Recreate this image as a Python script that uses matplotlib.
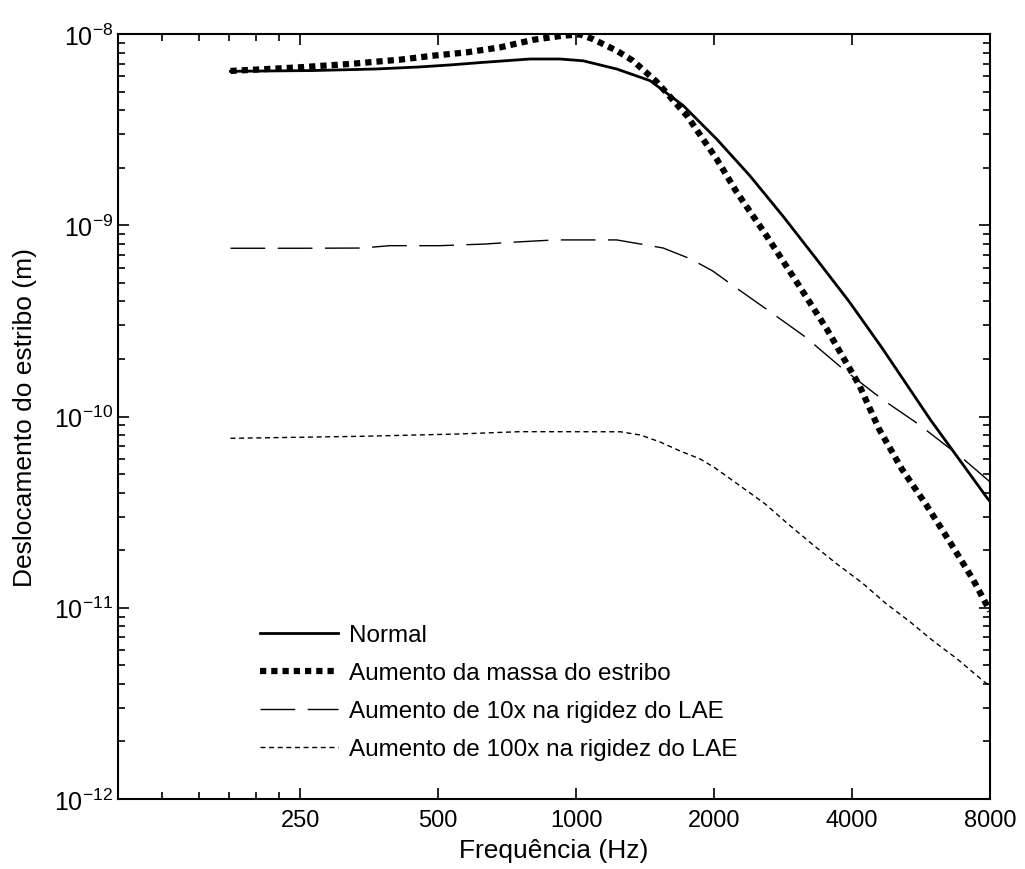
import matplotlib
matplotlib.use('Agg')
import matplotlib.pyplot as plt
from matplotlib.ticker import FixedLocator, NullFormatter, LogLocator

plt.rcParams['font.family'] = ['Liberation Sans', 'DejaVu Sans']
plt.rcParams['mathtext.fontset'] = 'custom'
plt.rcParams['mathtext.rm'] = 'Liberation Sans'
plt.rcParams['mathtext.default'] = 'regular'

# valores
freq_normal = [176, 266, 364, 452, 531, 623, 792, 922, 1036, 1226, 1450, 1713, 2026,
               2391, 2823, 3342, 3948, 4664, 5914, 7912, 8000]
desl_normal = [6.38e-9, 6.44e-9, 6.56e-9, 6.72e-9, 6.89e-9, 7.10e-9, 7.40e-9, 7.40e-9,
               7.24e-9, 6.56e-9, 5.70e-9, 4.22e-9, 2.82e-9, 1.82e-9, 1.12e-9, 6.67e-10,
               3.97e-10, 2.26e-10, 9.7e-11, 3.71e-11, 3.6e-11]

freq_massa = [176, 250, 320, 412, 487, 577, 682, 806, 936, 1020, 1087, 1226, 1330, 1500,
              1744, 2026, 2240, 2603, 3028, 3522, 4152, 4580, 5138, 5822, 6538, 7340, 8000]
desl_massa = [6.41e-9, 6.70e-9, 6.97e-9, 7.34e-9, 7.70e-9, 8.02e-9, 8.51e-9, 9.33e-9,
              9.80e-9, 9.95e-9, 9.41e-9, 8.18e-9, 7.25e-9, 5.61e-9, 3.74e-9, 2.22e-9,
              1.49e-9, 8.81e-10, 5.05e-10, 2.87e-10, 1.45e-10, 8.61e-11, 5.31e-11,
              3.42e-11, 2.21e-11, 1.41e-11, 9.6e-12]

freq_10x = [176, 250, 341, 392, 505, 635, 718, 898, 1128, 1226, 1380, 1549, 1776, 1985,
            2222, 2690, 3160, 3824, 4676, 5577, 6996, 8000]
desl_10x = [7.58e-10, 7.58e-10, 7.60e-10, 7.82e-10, 7.82e-10, 7.98e-10, 8.14e-10, 8.38e-10,
            8.38e-10, 8.38e-10, 7.98e-10, 7.60e-10, 6.67e-10, 5.77e-10, 4.75e-10, 3.44e-10,
            2.61e-10, 1.77e-10, 1.22e-10, 9.14e-11, 6.0e-11, 4.55e-11]

freq_100x = [176, 341, 552, 753, 1249, 1381, 1524, 1686, 1864, 2010, 2279, 2585, 2900,
             3290, 3711, 4208, 4725, 5356, 6013, 6784, 7734, 8000]
desl_100x = [7.69e-11, 7.88e-11, 8.1e-11, 8.33e-11, 8.32e-11, 8.0e-11, 7.36e-11, 6.6e-11,
             6.0e-11, 5.38e-11, 4.34e-11, 3.49e-11, 2.74e-11, 2.13e-11, 1.69e-11, 1.35e-11,
             1.06e-11, 8.43e-12, 6.7e-12, 5.4e-12, 4.14e-12, 3.9e-12]

xticks = [250, 500, 1000, 2000, 4000, 8000]
xminor = [125, 150, 175, 200, 225]
yticks = [1e-12, 1e-11, 1e-10, 1e-9, 1e-8]

fig = plt.figure(figsize=(10.25, 8.7), dpi=100)
ax = fig.add_axes([118 / 1025, 70 / 870, 872 / 1025, 765 / 870])

ax.loglog(freq_normal, desl_normal, color='black', lw=2.0, label='Normal')
ax.loglog(freq_massa, desl_massa, color='black', lw=4.5, linestyle=(0, (1.0, 0.8)),
          label='Aumento da massa do estribo')
ax.loglog(freq_10x, desl_10x, color='black', lw=1.0, linestyle=(0, (25, 9)),
          label='Aumento de 10x na rigidez do LAE')
ax.loglog(freq_100x, desl_100x, color='black', lw=1.0, linestyle=(0, (3.6, 2.6)),
          label='Aumento de 100x na rigidez do LAE')

ax.set_xlim(100, 8000)
ax.set_ylim(1e-12, 1e-8)
ax.xaxis.set_major_locator(FixedLocator(xticks))
ax.xaxis.set_minor_locator(FixedLocator(xminor))
ax.set_xticklabels([str(t) for t in xticks], fontsize=17)
ax.xaxis.set_minor_formatter(NullFormatter())
ax.yaxis.set_major_locator(FixedLocator(yticks))
ax.yaxis.set_minor_locator(LogLocator(base=10, subs=range(2, 10), numticks=10))
ax.yaxis.set_minor_formatter(NullFormatter())

ax.tick_params(which='both', direction='in', top=True, right=True, width=1.2)
ax.tick_params(axis='y', labelsize=18)
ax.tick_params(axis='x', pad=7)
ax.tick_params(which='major', length=8)
ax.tick_params(which='minor', length=5)
for s in ax.spines.values():
    s.set_linewidth(1.5)

ax.set_xlabel('Frequência (Hz)', fontsize=19, labelpad=5)
ax.set_ylabel('Deslocamento do estribo (m)', fontsize=19, labelpad=12)

ax.legend(loc='upper left', bbox_to_anchor=(260 / 1025, 1 - 625 / 870),
          bbox_transform=fig.transFigure, frameon=False, fontsize=17.5,
          handlelength=3.2, handletextpad=0.45, labelspacing=0.66,
          borderpad=0, borderaxespad=0)

fig.savefig('out.png', dpi=100)
